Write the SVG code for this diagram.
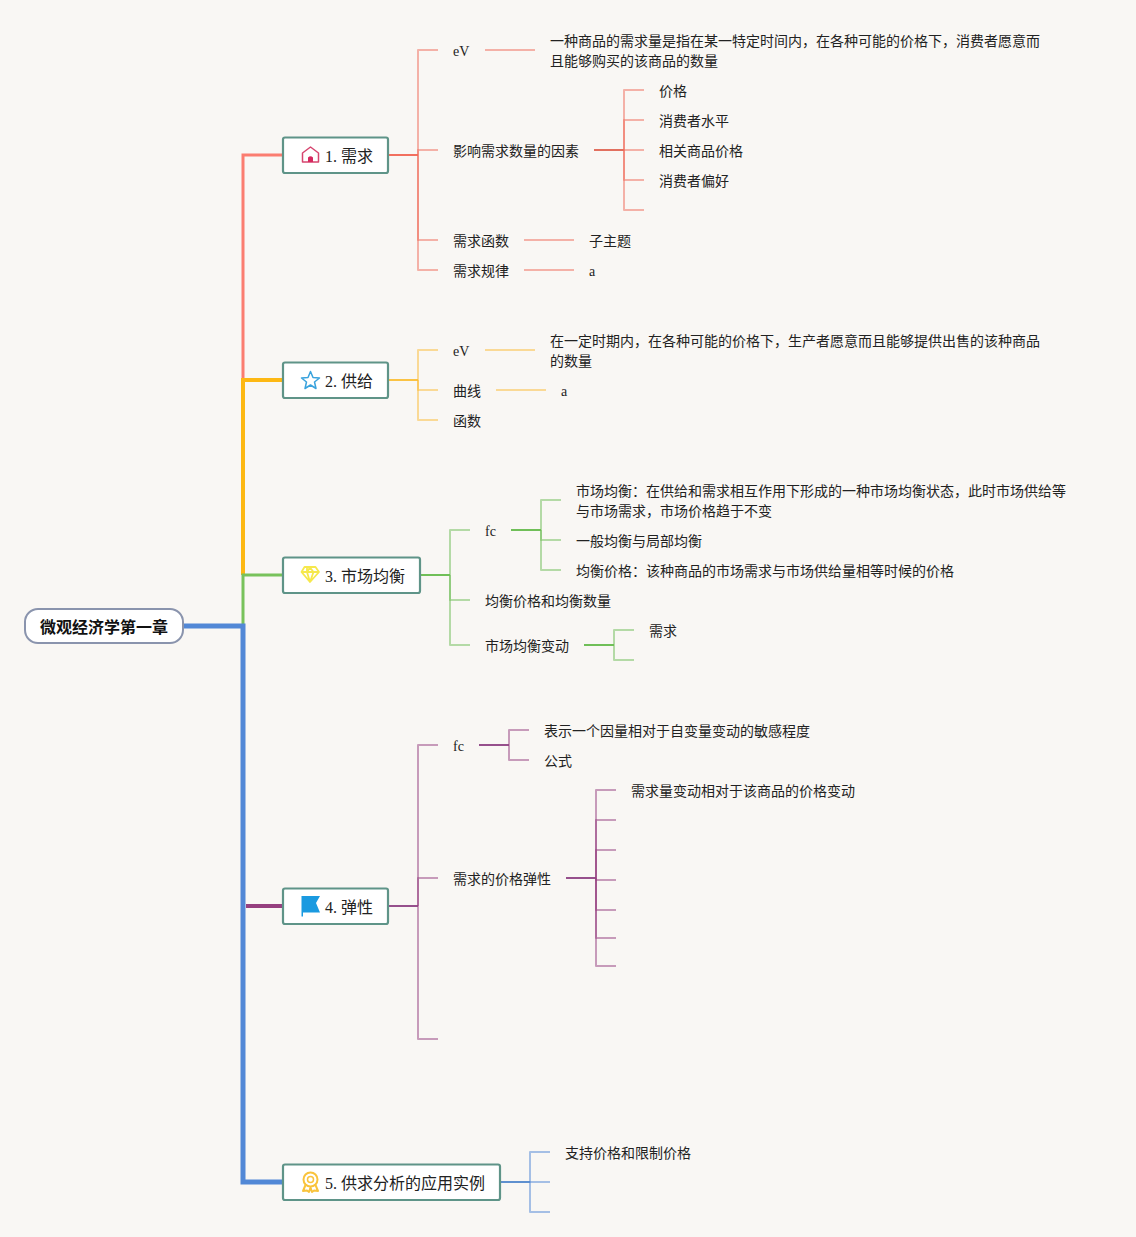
<svg xmlns="http://www.w3.org/2000/svg" width="1136" height="1237" viewBox="0 0 1136 1237">
<style>
text{font-family:"Liberation Serif","Noto Sans CJK SC",serif;font-size:14px;fill:#222}
.t{font-size:16px;fill:#222}
.r{font-size:16px;font-weight:bold;fill:#111;font-family:"Liberation Sans","Noto Sans CJK SC",sans-serif;text-anchor:middle}
.n{fill:#fff;stroke:#5f9488;stroke-width:2.200}
path{fill:none;stroke-linejoin:round}
.main path{stroke-linejoin:miter}
.f path{stroke-width:2;stroke-opacity:.5}
.red{stroke:#f06c5a}.reds{stroke:#f2705f;stroke-width:2}.redd{stroke:#e2705f;stroke-width:2}
.yel{stroke:#fbbc35}.yels{stroke:#fbc344;stroke-width:2}
.gre{stroke:#6fbe57}.gres{stroke:#70bf58;stroke-width:2}
.pur{stroke:#96407f}.purs{stroke:#96508c;stroke-width:2}
.blu{stroke:#5288d6}.blus{stroke:#5f90cf;stroke-width:2}
</style>
<rect width="1136" height="1237" fill="#f9f7f4"/>
<g id="connectors">
<g class="main">
<path d="M243 380V155H283" stroke="#fb7d70" stroke-width="3"/>
<path d="M243 575V380H283" stroke="#fdb813" stroke-width="4"/>
<path d="M243 626V575H283" stroke="#78c25b" stroke-width="3"/>
<path d="M246 906H283" stroke="#96407f" stroke-width="4"/>
<path d="M184 626H243V1182H283" stroke="#5288d6" stroke-width="5"/>
</g>

<path class="reds" d="M389 155H418"/>
<path class="redd" d="M594 150H624"/>
<g class="f">
<path class="red" d="M418 155V50H438"/><path class="red" d="M418 155V150H438"/><path class="red" d="M418 155V240H438"/><path class="red" d="M418 155V270H438"/>
<path class="red" d="M485 50H535"/><path class="red" d="M524 240H574"/><path class="red" d="M524 270H574"/>
<path class="red" d="M624 150V90H644"/><path class="red" d="M624 150V120H644"/><path class="red" d="M624 150H644"/><path class="red" d="M624 150V180H644"/><path class="red" d="M624 150V210H644"/>
</g>

<path class="yels" d="M389 380H418"/>
<g class="f">
<path class="yel" d="M418 380V350H438"/><path class="yel" d="M418 380V390H438"/><path class="yel" d="M418 380V420H438"/>
<path class="yel" d="M485 350H535"/><path class="yel" d="M496 390H546"/>
</g>

<path class="gres" d="M421 575H450"/>
<path class="gres" d="M511 530H541"/>
<path class="gres" d="M584 645H614"/>
<g class="f">
<path class="gre" d="M450 575V530H470"/><path class="gre" d="M450 575V600H470"/><path class="gre" d="M450 575V645H470"/>
<path class="gre" d="M541 530V500H561"/><path class="gre" d="M541 530V540H561"/><path class="gre" d="M541 530V570H561"/>
<path class="gre" d="M614 645V630H634"/><path class="gre" d="M614 645V660H634"/>
</g>

<path class="purs" d="M389 906H418"/>
<path class="purs" d="M479 745H509"/>
<path class="purs" d="M566 878H596"/>
<g class="f">
<path class="pur" d="M418 906V745H438"/><path class="pur" d="M418 906V878H438"/><path class="pur" d="M418 906V1039H438"/>
<path class="pur" d="M509 745V730H529"/><path class="pur" d="M509 745V760H529"/>
<path class="pur" d="M596 878V790H616"/><path class="pur" d="M596 878V820H616"/><path class="pur" d="M596 878V850H616"/><path class="pur" d="M596 878V880H616"/><path class="pur" d="M596 878V910H616"/><path class="pur" d="M596 878V938H616"/><path class="pur" d="M596 878V966H616"/>
</g>

<path class="blus" d="M501 1182H530"/>
<g class="f">
<path class="blu" d="M530 1182V1152H550"/><path class="blu" d="M530 1182H550"/><path class="blu" d="M530 1182V1212H550"/>
</g>
</g>

<g id="root"><rect x="25" y="609" width="158" height="34" rx="13" fill="#fff" stroke="#8a94ad" stroke-width="2"/><text class="r" x="104" y="633">微观经济学第一章</text></g>

<g id="n1"><rect class="n" x="283" y="137.500" width="105" height="35.500" rx="2"/>
<path d="M302.500 162V153L310.500 147L318.500 153V162Z" stroke="#d6456f" stroke-width="1.500"/><path d="M308 162V157.500Q310.500 155 313 157.500V162Z" style="fill:#d6285f"/>
<text class="t" x="325" y="162">1. 需求</text></g>
<g id="n2"><rect class="n" x="283" y="362.500" width="105" height="35.500" rx="2"/>
<path d="M310.500 371.500L313 377.500L319.500 378L314.500 382L316 388.500L310.500 385L305 388.500L306.500 382L301.500 378L308 377.500Z" stroke="#3aa3dd" stroke-width="1.500"/>
<text class="t" x="325" y="387">2. 供给</text></g>
<g id="n3"><rect class="n" x="283" y="557.500" width="137" height="35.500" rx="2"/>
<path d="M304.500 567H315.500L319 572L310 582L301.500 572ZM301.500 572H319M307 572L310 582L313.500 572M307 567.500L307 572M310 567.500L307 572M310 567.500L313.500 572" stroke="#f6e84c" stroke-width="1.800"/>
<text class="t" x="325" y="582">3. 市场均衡</text></g>
<g id="n4"><rect class="n" x="283" y="888.500" width="105" height="35.500" rx="2"/>
<path d="M301.500 896H320L316 903L320 912.500H303V916.500H301.500Z" style="fill:#1a9ae0"/>
<text class="t" x="325" y="913">4. 弹性</text></g>
<g id="n5"><rect class="n" x="283" y="1164.500" width="217" height="35.500" rx="2"/>
<circle cx="310.500" cy="1179.500" r="7" stroke="#f9c33c" stroke-width="2" fill="none"/><circle cx="310.500" cy="1179.500" r="3" stroke="#f9c33c" stroke-width="1.500" fill="none"/>
<path d="M305.500 1185L303 1191L307 1190.500L309 1192L310.500 1187.500L312 1192L314 1190.500L318 1191L315.500 1185" stroke="#f9c33c" stroke-width="2"/>
<text class="t" x="325" y="1189">5. 供求分析的应用实例</text></g>

<g id="t1"><text x="453" y="56">eV</text></g>
<g id="t2"><text x="550" y="46">一种商品的需求量是指在某一特定时间内，在各种可能的价格下，消费者愿意而</text><text x="550" y="66">且能够购买的该商品的数量</text></g>
<g id="t3"><text x="453" y="156">影响需求数量的因素</text></g>
<g id="t4"><text x="659" y="96">价格</text></g>
<g id="t5"><text x="659" y="126">消费者水平</text></g>
<g id="t6"><text x="659" y="156">相关商品价格</text></g>
<g id="t7"><text x="659" y="186">消费者偏好</text></g>
<g id="t8"><text x="453" y="246">需求函数</text></g>
<g id="t9"><text x="589" y="246">子主题</text></g>
<g id="t10"><text x="453" y="276">需求规律</text></g>
<g id="t11"><text x="589" y="276">a</text></g>
<g id="t12"><text x="453" y="356">eV</text></g>
<g id="t13"><text x="550" y="346">在一定时期内，在各种可能的价格下，生产者愿意而且能够提供出售的该种商品</text><text x="550" y="366">的数量</text></g>
<g id="t14"><text x="453" y="396">曲线</text></g>
<g id="t15"><text x="561" y="396">a</text></g>
<g id="t16"><text x="453" y="426">函数</text></g>
<g id="t17"><text x="485" y="536">fc</text></g>
<g id="t18"><text x="576" y="496">市场均衡：在供给和需求相互作用下形成的一种市场均衡状态，此时市场供给等</text><text x="576" y="516">与市场需求，市场价格趋于不变</text></g>
<g id="t19"><text x="576" y="546">一般均衡与局部均衡</text></g>
<g id="t20"><text x="576" y="576">均衡价格：该种商品的市场需求与市场供给量相等时候的价格</text></g>
<g id="t21"><text x="485" y="606">均衡价格和均衡数量</text></g>
<g id="t22"><text x="485" y="651">市场均衡变动</text></g>
<g id="t23"><text x="649" y="636">需求</text></g>
<g id="t24"><text x="453" y="751">fc</text></g>
<g id="t25"><text x="544" y="736">表示一个因量相对于自变量变动的敏感程度</text></g>
<g id="t26"><text x="544" y="766">公式</text></g>
<g id="t27"><text x="453" y="884">需求的价格弹性</text></g>
<g id="t28"><text x="631" y="796">需求量变动相对于该商品的价格变动</text></g>
<g id="t29"><text x="565" y="1158">支持价格和限制价格</text></g>
</svg>
